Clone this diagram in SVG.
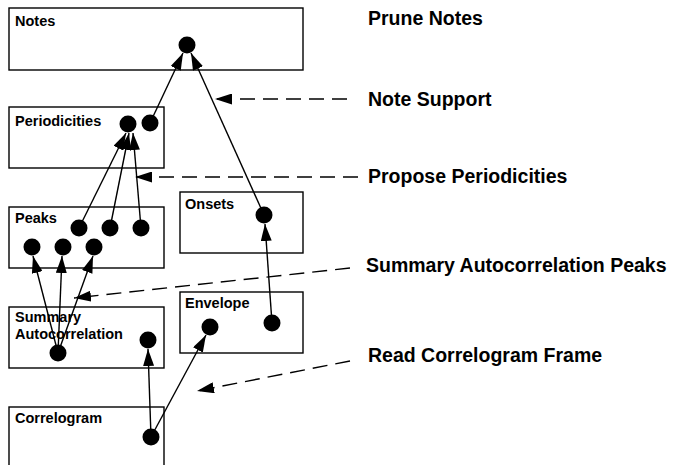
<svg xmlns="http://www.w3.org/2000/svg" width="673" height="465" viewBox="0 0 673 465">
<style>
.box{fill:#fff;stroke:#000;stroke-width:1.4}
.lbl{font-family:"Liberation Sans",Arial,sans-serif;font-weight:bold;font-size:14.5px;fill:#000}
.big{font-family:"Liberation Sans",Arial,sans-serif;font-weight:bold;font-size:19.5px;fill:#000}
.dot{fill:#000}
.ln{stroke:#000;stroke-width:1.4;fill:none;marker-end:url(#ah)}
.dash{stroke:#000;stroke-width:1.4;fill:none;stroke-dasharray:15 8;marker-end:url(#ah)}
</style>
<defs>
<marker id="ah" markerUnits="userSpaceOnUse" markerWidth="17" markerHeight="11" refX="17" refY="5.5" orient="auto">
<path d="M0,0 L17,5.5 L0,11 z" fill="#000"/>
</marker>
</defs>
<rect width="673" height="465" fill="#fff"/>
<g id="notes"><rect class="box" x="9" y="8" width="294" height="62"/><text class="lbl" x="15" y="26">Notes</text><circle class="dot" cx="187" cy="45" r="8.5"/></g>
<g id="periodicities"><rect class="box" x="9" y="107" width="155" height="61"/><text class="lbl" x="15" y="126">Periodicities</text><circle class="dot" cx="128" cy="124" r="8.5"/><circle class="dot" cx="150" cy="123" r="8.5"/></g>
<g id="peaks"><rect class="box" x="9" y="207" width="155" height="61"/><text class="lbl" x="15" y="223">Peaks</text><circle class="dot" cx="79" cy="228" r="8.5"/><circle class="dot" cx="110" cy="228" r="8.5"/><circle class="dot" cx="141" cy="228" r="8.5"/><circle class="dot" cx="32" cy="247" r="8.5"/><circle class="dot" cx="63" cy="247" r="8.5"/><circle class="dot" cx="94" cy="247" r="8.5"/></g>
<g id="onsets"><rect class="box" x="180" y="192" width="123" height="61"/><text class="lbl" x="185" y="209">Onsets</text><circle class="dot" cx="264" cy="215" r="8.5"/></g>
<g id="summary"><rect class="box" x="9" y="307" width="155" height="61"/><text class="lbl" x="15" y="322">Summary</text><text class="lbl" x="15" y="339">Autocorrelation</text><circle class="dot" cx="58" cy="353" r="8.5"/><circle class="dot" cx="148" cy="340" r="8.5"/></g>
<g id="envelope"><rect class="box" x="180" y="292" width="123" height="61"/><text class="lbl" x="185" y="308">Envelope</text><circle class="dot" cx="210" cy="327" r="8.5"/><circle class="dot" cx="272" cy="323" r="8.5"/></g>
<g id="correlogram"><rect class="box" x="9" y="407" width="155" height="80"/><text class="lbl" x="15" y="423">Correlogram</text><circle class="dot" cx="151" cy="437" r="8.5"/></g>
<g id="connectors">
<line class="ln" x1="150" y1="123" x2="183" y2="53"/>
<line class="ln" x1="264" y1="215" x2="191" y2="53"/>
<line class="ln" x1="79" y1="228" x2="126" y2="133"/>
<line class="ln" x1="110" y1="228" x2="129" y2="133"/>
<line class="ln" x1="141" y1="228" x2="133" y2="133"/>
<line class="ln" x1="58" y1="353" x2="33" y2="256"/>
<line class="ln" x1="58" y1="353" x2="62" y2="256"/>
<line class="ln" x1="58" y1="353" x2="93" y2="256"/>
<line class="ln" x1="272" y1="323" x2="265" y2="224"/>
<line class="ln" x1="151" y1="437" x2="148" y2="349"/>
<line class="ln" x1="151" y1="437" x2="206" y2="335"/>
<line class="dash" x1="347" y1="99" x2="215" y2="99"/>
<line class="dash" x1="358" y1="177" x2="135" y2="177"/>
<line class="dash" x1="350" y1="268" x2="74" y2="298"/>
<line class="dash" x1="350" y1="361" x2="197" y2="391"/>
</g>
<g id="labels">
<text class="big" x="368" y="25">Prune Notes</text>
<text class="big" x="368" y="106">Note Support</text>
<text class="big" x="368" y="183">Propose Periodicities</text>
<text class="big" x="366" y="272">Summary Autocorrelation Peaks</text>
<text class="big" x="368" y="362">Read Correlogram Frame</text>
</g>
</svg>
